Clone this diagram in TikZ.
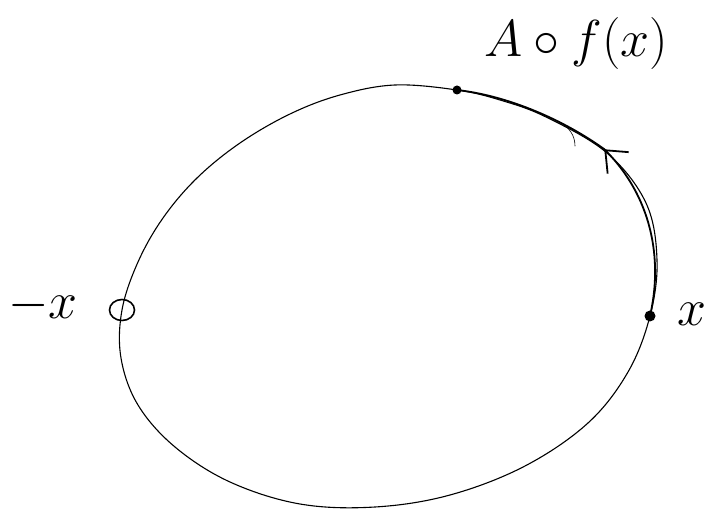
\documentclass[tikz,border=0pt]{standalone}
\usepackage{fix-cm}
\usetikzlibrary{arrows.meta,decorations.markings,shapes.geometric}
\begin{document}
\begin{tikzpicture}[x=1pt, y=-1pt, line cap=round,
    curve/.style={line width=1.1pt},
    arr/.style={line width=1.8pt, postaction={decorate},
      decoration={markings, mark=at position 0.53 with {\arrow{Straight Barb[length=18pt, width=30pt, line width=1.8pt]}}}},
    hole/.style={draw, ellipse, line width=1.6pt, inner sep=0, minimum width=25pt, minimum height=21pt},
    dot/.style={circle, fill, inner sep=0, minimum size=11pt},
    lab/.style={font=\fontsize{52}{52}\selectfont}]
  \useasboundingbox (0,0) rectangle (705,518);
  % the orbit
  \draw[curve] plot[smooth cycle, tension=0.6] coordinates {(457,90) (500,100) (546,117) (607,153) (646,203)
    (657,260) (650,316) (628,372) (588,423) (525,466) (450,495) (375,507) (300,504) (230,482) (175,447)
    (138,405) (121,358) (122,310) (138,262) (163,218) (197,178) (240,143) (290,114) (340,95) (395,85)};
  \node[hole] (mx) at (122,310) {};
  \node[dot] (px) at (650,316) {};
  \node[dot, minimum size=9pt] (fx) at (457,90) {};
  \node[lab] (lmx) at (43,306) {$-x$};
  \node[lab] (lpx) at (692,314) {$x$};
  \node[lab] (lfx) at (576,44) {$A\circ f(x)$};
  \coordinate (turn) at (604,149);
  \draw[arr] (px.center) .. controls (665,250) and (646,190) .. (turn)
    .. controls (565,121) and (510,96) .. (fx.center);
  \draw[line width=0.6pt] (558,121) .. controls (569,127) and (575,135) .. (575,146);
\end{tikzpicture}
\end{document}
